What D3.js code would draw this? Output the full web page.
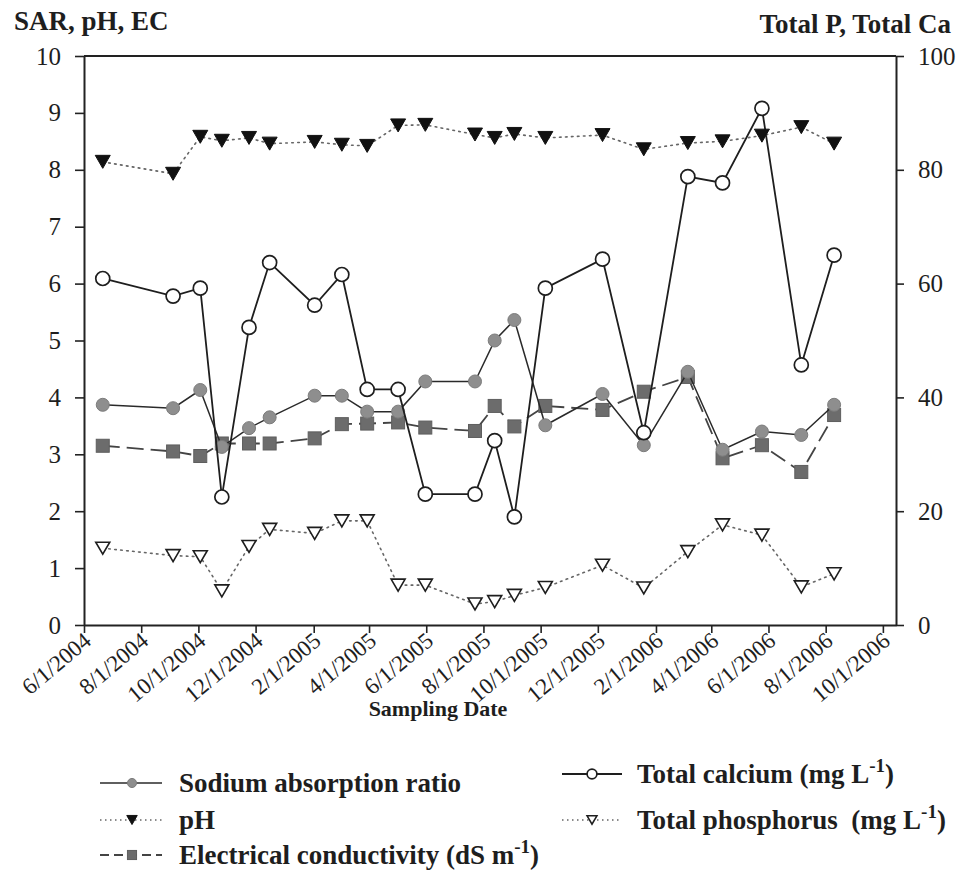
<!DOCTYPE html>
<html>
<head>
<meta charset="utf-8">
<script src="https://cdn.jsdelivr.net/npm/d3@7"></script>
<style>
  body { margin: 0; background: #fff; }
  text { font-family: "Liberation Serif", "Times New Roman", serif; fill: #1e1e1e; }
</style>
</head>
<body>
<svg id="chart" width="963" height="875"></svg>
<script>
// Sampling dates and measured values
const sampleDates = ["2004-06-21","2004-09-04","2004-10-03","2004-10-26","2004-11-24","2004-12-16",
  "2005-02-02","2005-03-03","2005-03-30","2005-05-02","2005-05-31","2005-07-23","2005-08-13",
  "2005-09-03","2005-10-06","2005-12-06","2006-01-19","2006-03-07","2006-04-13","2006-05-25",
  "2006-07-06","2006-08-10"];
const sar        = [3.87, 3.81, 4.13, 3.13, 3.46, 3.65, 4.03, 4.03, 3.75, 3.75, 4.28, 4.28, 5.00, 5.36, 3.51, 4.06, 3.16, 4.45, 3.08, 3.40, 3.34, 3.87];
const ph         = [8.14, 7.93, 8.58, 8.51, 8.56, 8.46, 8.49, 8.44, 8.42, 8.78, 8.79, 8.62, 8.56, 8.63, 8.56, 8.61, 8.36, 8.47, 8.50, 8.60, 8.75, 8.46];
const ec         = [3.15, 3.05, 2.97, 3.19, 3.19, 3.19, 3.28, 3.53, 3.54, 3.56, 3.47, 3.41, 3.85, 3.49, 3.85, 3.78, 4.10, 4.36, 2.93, 3.16, 2.69, 3.69];
const calcium    = [60.9, 57.8, 59.2, 22.5, 52.3, 63.7, 56.2, 61.6, 41.4, 41.4, 23.0, 23.0, 32.4, 19.0, 59.2, 64.3, 33.8, 78.8, 77.7, 90.8, 45.7, 65.0];
const phosphorus = [13.5, 12.2, 12.0, 6.0, 13.8, 16.8, 16.1, 18.3, 18.3, 7.0, 7.0, 3.7, 4.1, 5.2, 6.6, 10.5, 6.5, 12.9, 17.6, 15.8, 6.7, 9.0];

// Axis ticks
const leftTicks  = [0,1,2,3,4,5,6,7,8,9,10];
const rightTicks = [0,20,40,60,80,100];
const dateTicks  = ["2004-06-01","2004-08-01","2004-10-01","2004-12-01","2005-02-01","2005-04-01",
  "2005-06-01","2005-08-01","2005-10-01","2005-12-01","2006-02-01","2006-04-01","2006-06-01",
  "2006-08-01","2006-10-01"];
const dateDomain = ["2004-06-01","2006-10-15"];

const parse = d3.utcParse("%Y-%m-%d");
const fmt = d3.utcFormat("%-m/%-d/%Y");
const SERIF = "'Liberation Serif', 'Times New Roman', serif";

const L = 84, R = 896, T = 56, B = 625;
const svg = d3.select("#chart");

const x  = d3.scaleUtc().domain(dateDomain.map(parse)).range([L, R]);
const yL = d3.scaleLinear().domain([0, 10]).range([B, T]);
const yR = d3.scaleLinear().domain([0, 100]).range([B, T]);

const rows = sampleDates.map((d, i) => ({
  date: parse(d), sar: sar[i], ph: ph[i], ec: ec[i], ca: calcium[i], p: phosphorus[i]
}));

// Frame top line
svg.append("line").attr("x1", L).attr("x2", R).attr("y1", T).attr("y2", T)
  .attr("stroke", "#222").attr("stroke-width", 2);

// Axes
function styleAxis(g) {
  g.attr("font-family", SERIF);
  g.select(".domain").attr("stroke", "#222").attr("stroke-width", 2);
  g.selectAll(".tick line").attr("stroke", "#222").attr("stroke-width", 1.6);
  g.selectAll(".tick text").attr("font-family", SERIF).style("font-size", "25px").attr("fill", "#222");
}

svg.append("g").attr("transform", `translate(${L},0)`)
  .call(d3.axisLeft(yL).tickValues(leftTicks).tickSize(9).tickPadding(14).tickSizeOuter(0))
  .call(styleAxis);

svg.append("g").attr("transform", `translate(${R},0)`)
  .call(d3.axisRight(yR).tickValues(rightTicks).tickSize(8).tickPadding(14).tickSizeOuter(0))
  .call(styleAxis);

const xAxis = svg.append("g").attr("transform", `translate(0,${B})`)
  .call(d3.axisBottom(x).tickValues(dateTicks.map(parse)).tickFormat(fmt).tickSize(8).tickSizeOuter(0))
  .call(styleAxis);
xAxis.selectAll(".tick text")
  .attr("x", 0).attr("y", 0).attr("dy", "0.35em")
  .attr("text-anchor", "end")
  .attr("transform", "translate(3,12) rotate(-40)")
  .style("font-size", "23px");

// Axis titles
svg.append("text").attr("x", 14).attr("y", 30).attr("font-weight", "bold")
  .style("font-size", "27px").text("SAR, pH, EC");
svg.append("text").attr("x", 951).attr("y", 33).attr("text-anchor", "end").attr("font-weight", "bold")
  .style("font-size", "27px").text("Total P, Total Ca");
svg.append("text").attr("x", 438).attr("y", 716).attr("text-anchor", "middle").attr("font-weight", "bold")
  .style("font-size", "22px").text("Sampling Date");

// Marker shapes
const triDown = (w, h) => `M${-w/2},${-h/2}L${w/2},${-h/2}L0,${h/2}Z`;

const series = [
  { key: "ec",  y: yL, line: { stroke: "#444", width: 1.8, dash: "17,7" },
    marker: { type: "square", size: 13, fill: "#6c6c6c", stroke: "#5e5e5e" } },
  { key: "sar", y: yL, line: { stroke: "#2a2a2a", width: 1.5, dash: null },
    marker: { type: "circle", r: 6.5, fill: "#8e8e8e", stroke: "#7c7c7c" } },
  { key: "ca",  y: yR, line: { stroke: "#1e1e1e", width: 1.8, dash: null },
    marker: { type: "circle", r: 7, fill: "#fff", stroke: "#1e1e1e", sw: 1.7 } },
  { key: "ph",  y: yL, line: { stroke: "#666", width: 1.6, dash: "1.6,4.4" },
    marker: { type: "tri", w: 15, h: 13, fill: "#111", stroke: "#111" } },
  { key: "p",   y: yR, line: { stroke: "#666", width: 1.6, dash: "1.6,4.4" },
    marker: { type: "tri", w: 14, h: 12, fill: "#fff", stroke: "#1e1e1e", sw: 1.6 } }
];

function drawMarker(sel, m, scale) {
  const k = scale || 1;
  if (m.type === "circle") {
    sel.append("circle").attr("r", m.r * k).attr("fill", m.fill)
      .attr("stroke", m.stroke).attr("stroke-width", m.sw || 1);
  } else if (m.type === "square") {
    const s = m.size * k;
    sel.append("rect").attr("x", -s/2).attr("y", -s/2).attr("width", s).attr("height", s)
      .attr("fill", m.fill).attr("stroke", m.stroke).attr("stroke-width", 1);
  } else {
    sel.append("path").attr("d", triDown(m.w * k, m.h * k)).attr("fill", m.fill)
      .attr("stroke", m.stroke).attr("stroke-width", m.sw || 1).attr("stroke-linejoin", "miter");
  }
}

series.forEach(s => {
  const gen = d3.line().x(d => x(d.date)).y(d => s.y(d[s.key]));
  svg.append("path").datum(rows).attr("d", gen).attr("fill", "none")
    .attr("stroke", s.line.stroke).attr("stroke-width", s.line.width)
    .attr("stroke-dasharray", s.line.dash)
    .attr("stroke-linecap", s.line.dash && s.line.dash.startsWith("1.6") ? "round" : "butt");
  svg.append("g").selectAll("g").data(rows).join("g")
    .attr("transform", d => `translate(${x(d.date)},${s.y(d[s.key])})`)
    .each(function() { drawMarker(d3.select(this), s.marker); });
});

// Legend
const byKey = Object.fromEntries(series.map(s => [s.key, s]));
const legendItems = [
  { key: "sar", x1: 100, x2: 162, cx: 132, cy: 783, tx: 179, ty: 792, label: ["Sodium absorption ratio"] },
  { key: "ph",  x1: 100, x2: 162, cx: 132, cy: 820, tx: 179, ty: 829, label: ["pH"] },
  { key: "ec",  x1: 100, x2: 162, cx: 132, cy: 855, tx: 179, ty: 864, label: ["Electrical conductivity (dS m", "-1", ")"] },
  { key: "ca",  x1: 562, x2: 622, cx: 592, cy: 774, tx: 637, ty: 783, label: ["Total calcium (mg L", "-1", ")"] },
  { key: "p",   x1: 562, x2: 622, cx: 592, cy: 820, tx: 637, ty: 829, label: ["Total phosphorus  (mg L", "-1", ")"] }
];
const legendDash = { sar: null, ca: null, ph: "1.5,3.5", p: "1.5,3.5", ec: "9,5" };

legendItems.forEach(it => {
  const s = byKey[it.key];
  const g = svg.append("g");
  g.append("line").attr("x1", it.x1).attr("x2", it.x2).attr("y1", it.cy).attr("y2", it.cy)
    .attr("stroke", s.line.stroke).attr("stroke-width", s.line.width)
    .attr("stroke-dasharray", legendDash[it.key]);
  const mg = g.append("g").attr("transform", `translate(${it.cx},${it.cy})`);
  drawMarker(mg, s.marker, 0.7);
  const t = g.append("text").attr("x", it.tx).attr("y", it.ty).attr("font-weight", "bold")
    .style("font-size", "27px").style("white-space", "pre");
  t.append("tspan").text(it.label[0]);
  if (it.label.length > 1) {
    t.append("tspan").attr("dy", -11).style("font-size", "19px").text(it.label[1]);
    t.append("tspan").attr("dy", 11).text(it.label[2]);
  }
});
</script>
</body>
</html>
